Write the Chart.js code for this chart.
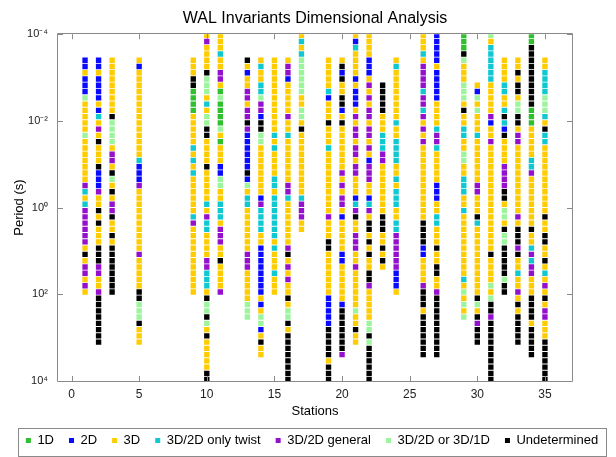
<!DOCTYPE html>
<html><head><meta charset="utf-8">
<script src="https://cdn.jsdelivr.net/npm/chart.js@4.4.1/dist/chart.umd.min.js"></script>
<style>html,body{margin:0;padding:0;background:#fff;}#wrap{width:616px;height:457px;}</style>
</head><body><div id="wrap"><canvas id="c" width="616" height="457"></canvas></div>
<script>
const categories = ['1D', '2D', '3D', '3D/2D only twist', '3D/2D general', '3D/2D or 3D/1D', 'Undetermined'];
const categoryCodes = ['G', 'B', 'Y', 'C', 'P', 'L', 'K'];
const categoryColors = ['#2fbf2f', '#0a0aff', '#ffcc00', '#10c8d0', '#9410cc', '#9cf59c', '#000000'];

// log10(period) of the sampled periods, top (short) to bottom (long)
const periodExponents = [
  -3.977, -3.833, -3.688, -3.544, -3.399, -3.255, -3.110, -2.966, -2.821, -2.677,
  -2.532, -2.388, -2.243, -2.099, -1.954, -1.810, -1.665, -1.521, -1.376, -1.232,
  -1.087, -0.943, -0.798, -0.654, -0.509, -0.365, -0.220, -0.076, 0.069, 0.213,
  0.358, 0.502, 0.647, 0.791, 0.936, 1.080, 1.225, 1.369, 1.514, 1.658,
  1.803, 1.947, 2.092, 2.236, 2.381, 2.525, 2.670, 2.814, 2.959, 3.103,
  3.248, 3.392, 3.537, 3.681, 3.826, 3.970
];

const stations = [1, 2, 3, 5, 9, 10, 11, 13, 14, 15, 16, 17, 19, 20, 21, 22, 23, 24, 26, 27, 29, 30, 31, 32, 33, 34, 35];
// index of first (shortest) period available at each station
const stationStart = [4, 4, 4, 4, 4, 0, 0, 4, 4, 4, 4, 0, 4, 4, 0, 0, 8, 4, 0, 0, 0, 8, 0, 4, 4, 0, 4];
// dimensionality code per period, G=1D B=2D Y=3D C=twist P=general L=3D/2D or 3D/1D K=undetermined
const stationCodes = [
  'BBYBBBLYYYYYLYYYYYYYPCYCPPPPPPYKYPPYPY',
  'BBYBBBBYBCYPYKYYYKBBBPYYKYKYYYKKKPPYYPKKKKKKKK',
  'YYYYYYYYYKLLLLYPPYKLYKYPPKYYKYKKKKKKKK',
  'YBYYYYYYYYYYYYYYCBBBPYYYYYYYYYYPYYYYYKKLLLKYYY',
  'YYYKKGGGGYYYYYCYCYCYYYYYYCPYYYYYYYYYYY',
  'YPYYYYKLLLYCYLLKKYYYYKYYYYYCYPCCYYYYPPCCCYKLLKLYKYYYYYKK',
  'YYYCYYPPYGLGGGGLYGYYYBBLLYYCCCYPPPYYKYYYYP',
  'KYBYYPPYPPKPBBBBBBKBLYCCYYYYYYYPPPYYYYYLLL',
  'YCYYCCLPPBKKLLYYYYYYYYBPCCCCYYBBBBBBBBYBYLLBYKYY',
  'YYYYYYYYYYYYCYCYYYYCCYCCCCCCCYCYYYCYYY',
  'YPPBYYYYYPYYCYYYYYYYPPCYYYYYYYPKYPYPYYKYLLKYKKKKKKKK',
  'YCYCLLLLLLYYLLYKYYYYYYYYYYCPPPYY',
  'YYYYYCBYYYKYYYCYYYYYYYYYYPYYYKKYYYYYYYBBBBBKKKKKYKKK',
  'YKBKYYKKBYKYYYYYYYPYPYPPYBYYYYYBBYYYYYYBKKKKKKKP',
  'YBCYYYYBYBBBYPYPPYPPYPPYYYBCPKYYPPPYYPYYYYYYLYYKYY',
  'YYYYBBBYPYPYPPYPPYPYBPPPYYBCPYKKYKYKYYKKPYYYYYLLKLKKKKKK',
  'KKKKKYYYCCCPPYYYYYYYYKKKYYKYKY',
  'YCYYYYYYYYCYYCCCCYYCYCCCYYCCPPPPPPBBBY',
  'YYYCYPPPPCPPCPYPYPYYYYYYYYYYYYKKKKBBYYYYPKKKYKKKKKKK',
  'BBBBBYBBBBBYYYYCPPCYYYYYBBBYYCCYYYKYYKKYYPKKKKKKKKKK',
  'GGGKLYYYLLLYKYYCCYYLLYYCCCYYCYYYYYYYYYYCYLYLYL',
  'YBLYLYYYCYYYYYYYPPYYYKCYYYYYYYYYYYKLYKPKKK',
  'LYCCCCCCYYYYYPBYYPYYYYYYYYYYYYYYYYYKYYYYLYLKKPKKKKKKKKKK',
  'YYYYCCYYCKCBKYYYYPPPPKKYLLYKLLKKKKKLKK',
  'YYKYKKYLLKKYPPYYYYYYYYYYYPYKKKPKYYCYYPYKYKKKKK',
  'GGKKKKKKKKKKGGGYYYYYCCPYYYYYYYYKYYCPCPPYYYKKKKYKKKKK',
  'YYCCCCLLLCYKCCYYYYYYYYYYYKYYKKYYKYCYPYKYPPYYYKKKKKKK'
];

const xTickValues = [0, 5, 10, 15, 20, 25, 30, 35];
const yTickValues = [1e-4, 1e-2, 1, 1e2, 1e4];
const yTickLabels = ['10\u207B\u2074', '10\u207B\u00B2', '10\u2070', '10\u00B2', '10\u2074'];

const FONT = "'Liberation Sans', Arial, Helvetica, sans-serif";

const datasets = categories.map((name, ci) => ({
  label: name,
  data: [],
  backgroundColor: categoryColors[ci],
  borderColor: categoryColors[ci],
  borderWidth: 0,
  pointStyle: 'rect',
  pointRadius: 3.8,
  pointHoverRadius: 3.8
}));
stations.forEach((st, si) => {
  const codes = stationCodes[si];
  for (let i = 0; i < codes.length; i++) {
    const e = periodExponents[stationStart[si] + i];
    if (e === undefined) continue;
    const ci = categoryCodes.indexOf(codes[i]);
    if (ci < 0) continue;
    datasets[ci].data.push({ x: st, y: Math.pow(10, e) });
  }
});

const frameTicks = {
  id: 'frameTicks',
  afterDatasetsDraw(chart) {
    const { ctx, chartArea: a, scales } = chart;
    ctx.save();
    ctx.strokeStyle = '#8a8a8a';
    ctx.lineWidth = 1;
    ctx.beginPath();
    ctx.rect(Math.round(a.left) - 0.5, Math.round(a.top) - 0.5, Math.round(a.right - a.left) + 1, Math.round(a.bottom - a.top) + 1);
    ctx.stroke();
    const L = 5;
    ctx.beginPath();
    xTickValues.forEach(v => {
      const px = Math.round(scales.x.getPixelForValue(v)) + 0.5;
      ctx.moveTo(px, a.bottom); ctx.lineTo(px, a.bottom - L);
      ctx.moveTo(px, a.top); ctx.lineTo(px, a.top + L);
    });
    yTickValues.forEach(v => {
      const py = Math.round(scales.y.getPixelForValue(v)) + 0.5;
      ctx.moveTo(a.left, py); ctx.lineTo(a.left + L, py);
      ctx.moveTo(a.right, py); ctx.lineTo(a.right - L, py);
    });
    ctx.stroke();
    ctx.restore();
  },
  afterDraw(chart) {
    const lg = chart.legend;
    if (!lg || !lg.legendHitBoxes || !lg.legendHitBoxes.length) return;
    const hb = lg.legendHitBoxes;
    const left = Math.min(...hb.map(h => h.left)) - 8;
    const right = Math.max(...hb.map(h => h.left + h.width)) + 8;
    const cy = hb[0].top + hb[0].height / 2;
    const { ctx } = chart;
    ctx.save();
    ctx.strokeStyle = '#8a8a8a';
    ctx.lineWidth = 1;
    ctx.strokeRect(Math.round(left) + 0.5, Math.round(cy - 13) + 0.5, Math.round(right - left), 28);
    ctx.restore();
  }
};

new Chart(document.getElementById('c'), {
  type: 'scatter',
  data: { datasets },
  plugins: [frameTicks],
  options: {
    responsive: false,
    animation: false,
    devicePixelRatio: 1,
    events: [],
    layout: { padding: { left: 8, right: 0, top: 0, bottom: 0 } },
    plugins: {
      tooltip: { enabled: false },
      title: {
        display: true,
        text: 'WAL Invariants Dimensional Analysis',
        fullSize: false,
        color: '#000',
        font: { family: FONT, size: 16, weight: 'normal' },
        padding: { top: 9, bottom: 6 }
      },
      legend: {
        display: true,
        position: 'bottom',
        labels: {
          usePointStyle: true,
          pointStyle: 'rect',
          boxWidth: 5,
          boxHeight: 5,
          padding: 15,
          color: '#000',
          font: { family: FONT, size: 13 }
        }
      }
    },
    scales: {
      x: {
        type: 'linear',
        position: 'bottom',
        min: -1,
        max: 37,
        afterBuildTicks: s => { s.ticks = xTickValues.map(v => ({ value: v })); },
        afterFit: s => { s.height = 38; },
        grid: { display: false, drawTicks: false },
        border: { display: false },
        ticks: { padding: 6, color: '#222', font: { family: FONT, size: 12 }, callback: v => String(v) },
        title: { display: true, text: 'Stations', color: '#000', font: { family: FONT, size: 13 }, padding: { top: 0, bottom: 0 } }
      },
      y: {
        type: 'logarithmic',
        position: 'left',
        reverse: true,
        min: 1e-4,
        max: 1e4,
        afterBuildTicks: s => { s.ticks = yTickValues.map(v => ({ value: v })); },
        afterFit: s => { s.width = 50; },
        grid: { display: false, drawTicks: false },
        border: { display: false },
        ticks: { padding: 10, color: '#222', font: { family: FONT, size: 11 }, callback: (v, i) => yTickLabels[i] },
        title: { display: true, text: 'Period (s)', color: '#000', font: { family: FONT, size: 13 }, padding: { top: 4, bottom: 0 } }
      },
      y2: {
        type: 'linear',
        position: 'right',
        display: true,
        afterFit: s => { s.width = 44; },
        grid: { display: false, drawTicks: false },
        border: { display: false },
        ticks: { display: false }
      }
    }
  }
});
</script>
</body></html>
